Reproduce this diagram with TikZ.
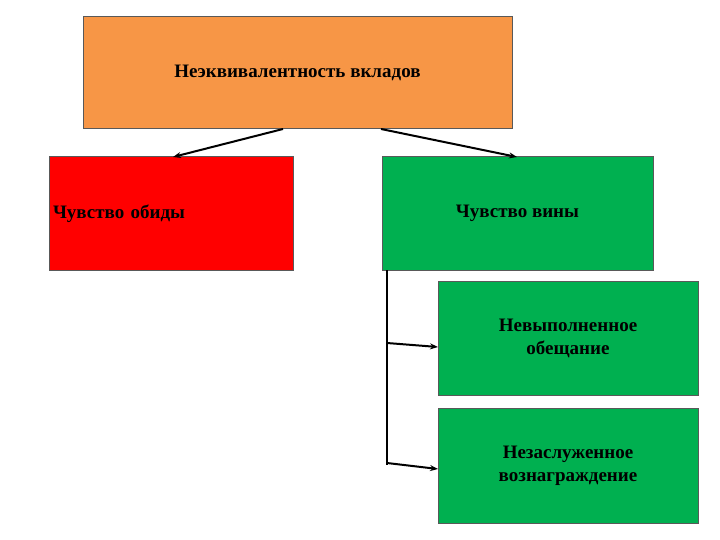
\documentclass[tikz,border=0pt]{standalone}
\usepackage{fontspec}
\setmainfont{Liberation Serif}
\usetikzlibrary{arrows.meta}
\begin{document}
\begin{tikzpicture}[x=1pt,y=-1pt,
  box/.style={draw=gray!70!black,line width=1pt,font=\bfseries\fontsize{19}{23}\selectfont,align=center,inner sep=0pt},
  conn/.style={line width=2pt,-{Stealth[length=8pt,width=6pt]}}]
\useasboundingbox (0,0) rectangle (720,540);
\node[box,fill={rgb,255:red,247;green,150;blue,70},minimum width=429,minimum height=112] (top) at (297.5,73) {Неэквивалентность вкладов};
\node[box,fill=red,minimum width=244,minimum height=113,text width=236,align=left] (red) at (171,213.5) {Чувство обиды};
\node[box,fill={rgb,255:red,0;green,176;blue,80},minimum width=271,minimum height=113] (g1) at (517.5,213.5) {Чувство вины};
\node[box,fill={rgb,255:red,0;green,176;blue,80},minimum width=260,minimum height=114] (g2) at (568,338) {Невыполненное\\обещание};
\node[box,fill={rgb,255:red,0;green,176;blue,80},minimum width=260,minimum height=115] (g3) at (568,465.5) {Незаслуженное\\вознаграждение};
\coordinate (t1) at (283,129); \coordinate (r1) at (173,157);
\coordinate (t2) at (381,129); \coordinate (r2) at (517,157);
\draw[conn] (t1) -- (r1);
\draw[conn] (t2) -- (r2);
\coordinate (v0) at (387,270); \coordinate (v1) at (387,465);
\coordinate (a1) at (387,343); \coordinate (b1) at (438,347);
\coordinate (a2) at (387,463); \coordinate (b2) at (438,469);
\draw[line width=2pt] (v0) -- (v1);
\draw[conn] (a1) -- (b1);
\draw[conn] (a2) -- (b2);
\end{tikzpicture}
\end{document}
